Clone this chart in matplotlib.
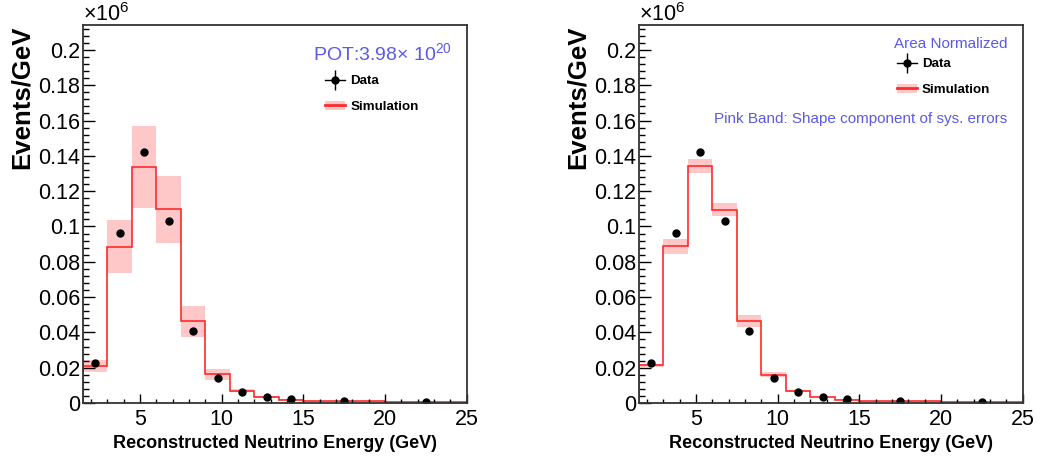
import numpy as np
import matplotlib.pyplot as plt
from matplotlib.lines import Line2D
from matplotlib.patches import Patch
from matplotlib.ticker import MultipleLocator

plt.rcParams['font.family'] = ['Liberation Sans', 'DejaVu Sans']
plt.rcParams['mathtext.fontset'] = 'custom'
plt.rcParams['mathtext.rm'] = 'Liberation Sans'
plt.rcParams['mathtext.it'] = 'Liberation Sans:italic'
plt.rcParams['mathtext.bf'] = 'Liberation Sans:bold'

# binning (GeV)
edges = [1.5, 3.0, 4.5, 6.0, 7.5, 9.0, 10.5, 12.0, 13.5, 15.0, 20.0, 25.0]
centers = [2.25, 3.75, 5.25, 6.75, 8.25, 9.75, 11.25, 12.75, 14.25, 17.5, 22.5]

# data, events/GeV (x1e6)
data = [0.0226, 0.0962, 0.1424, 0.1033, 0.0409, 0.0139, 0.0060, 0.0034, 0.0023, 0.0011, 0.0004]

# simulation, POT normalized
sim_pot = [0.0207, 0.0883, 0.1339, 0.1097, 0.0466, 0.0166, 0.0070, 0.0034, 0.0019, 0.0009, 0.0004]
band_pot_lo = [0.0175, 0.0736, 0.1104, 0.0905, 0.0374, 0.0132, 0.0060, 0.0028, 0.0015, 0.0007, 0.0003]
band_pot_hi = [0.0243, 0.1038, 0.1570, 0.1288, 0.0551, 0.0194, 0.0080, 0.0040, 0.0023, 0.0011, 0.0005]

# simulation, area normalized
sim_area = [0.0213, 0.0890, 0.1345, 0.1094, 0.0464, 0.0160, 0.0066, 0.0034, 0.0019, 0.0009, 0.0004]
band_area_lo = [0.0203, 0.0845, 0.1305, 0.1060, 0.0428, 0.0150, 0.0062, 0.0032, 0.0018, 0.0008, 0.0003]
band_area_hi = [0.0223, 0.0928, 0.1380, 0.1135, 0.0496, 0.0175, 0.0072, 0.0037, 0.0021, 0.0010, 0.0005]

pink = '#ffc8c8'
red = '#ff2a2a'
blue = '#5a5ae6'

fig = plt.figure(figsize=(10.4, 4.58), dpi=100)
ax1 = fig.add_axes([0.0798, 0.120, 0.369, 0.825])
ax2 = fig.add_axes([0.6144, 0.120, 0.369, 0.825])


def draw_panel(ax, sim, lo, hi):
    ax.stairs(hi, edges, baseline=lo, fill=True, color=pink, lw=0)
    ax.stairs(sim, edges, color=red, lw=1.2)
    ax.plot(centers, data, 'o', color='black', ms=5)
    ax.set_xlim(1.5, 25)
    ax.set_ylim(0, 0.214)
    ax.xaxis.set_major_locator(MultipleLocator(5))
    ax.xaxis.set_minor_locator(MultipleLocator(1))
    ax.yaxis.set_major_locator(MultipleLocator(0.02))
    ax.yaxis.set_minor_locator(MultipleLocator(0.004))
    ax.set_yticks(np.arange(0, 0.21, 0.02))
    ax.set_yticklabels(['0', '0.02', '0.04', '0.06', '0.08', '0.1', '0.12',
                        '0.14', '0.16', '0.18', '0.2'])
    ax.tick_params(which='both', right=False, top=False)
    ax.tick_params(axis='y', which='major', direction='in', length=8.5, width=1,
                   labelsize=15.5, pad=2)
    ax.tick_params(axis='y', which='minor', direction='in', length=4.3, width=1)
    ax.tick_params(axis='x', which='major', direction='in', length=6.5, width=1,
                   labelsize=15.5, pad=4)
    ax.tick_params(axis='x', which='minor', direction='in', length=3, width=1)
    for s in ax.spines.values():
        s.set_linewidth(1.3)
        s.set_color('#333333')
    ax.set_xlabel('Reconstructed Neutrino Energy (GeV)', fontsize=13, fontweight='bold',
                  labelpad=4)
    ax.set_ylabel('Events/GeV', fontsize=18.5, fontweight='bold', loc='top', labelpad=3)
    ax.text(0.0, 0.998, '×10$^{6}$', transform=ax.transAxes, fontsize=15.5,
            ha='left', va='bottom')


draw_panel(ax1, sim_pot, band_pot_lo, band_pot_hi)
draw_panel(ax2, sim_area, band_area_lo, band_area_hi)

data_h = (Line2D([], [], color='black', marker='o', ms=5, lw=1),
          Line2D([], [], color='black', marker='|', ms=14, mew=1, lw=0))
sim_h = (Patch(facecolor=pink, edgecolor='none'), Line2D([], [], color=red, lw=2))

ax1.text(0.96, 0.955, 'POT:3.98× 10$^{20}$', transform=ax1.transAxes, fontsize=14,
         color=blue, ha='right', va='top')
ax1.legend([data_h, sim_h], ['Data', 'Simulation'], loc='upper left',
           bbox_to_anchor=(0.6, 0.9), frameon=False, handlelength=1.5,
           labelspacing=1.0, prop={'weight': 'bold', 'size': 9.6}, handletextpad=0.4)

ax2.text(0.96, 0.97, 'Area Normalized', transform=ax2.transAxes, fontsize=11,
         color=blue, ha='right', va='top')
ax2.legend([data_h, sim_h], ['Data', 'Simulation'], loc='upper left',
           bbox_to_anchor=(0.64, 0.945), frameon=False, handlelength=1.5,
           labelspacing=1.0, prop={'weight': 'bold', 'size': 9.6}, handletextpad=0.4)
ax2.text(0.96, 0.77, 'Pink Band: Shape component of sys. errors', transform=ax2.transAxes,
         fontsize=11, color=blue, ha='right', va='top')

fig.savefig('out.png', dpi=100)
